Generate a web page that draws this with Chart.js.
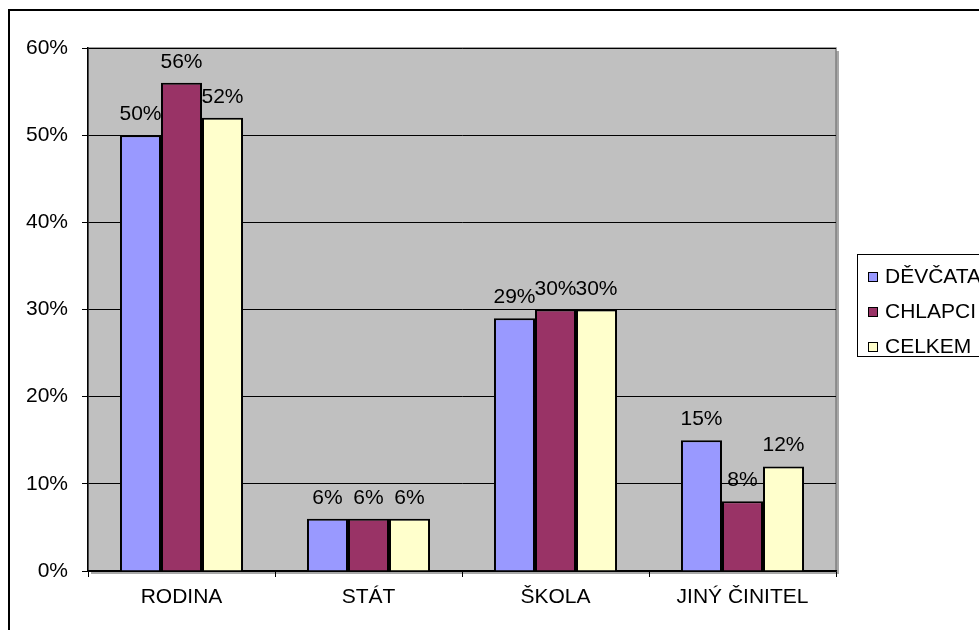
<!DOCTYPE html>
<html>
<head>
<meta charset="utf-8">
<script src="https://cdn.jsdelivr.net/npm/chart.js@4"></script>
<style>
  html, body { margin: 0; padding: 0; background: #fff; overflow: hidden; }
  #frame { position: absolute; left: 8px; top: 9px; width: 1100px; height: 800px; border: 2px solid #000; }
  #wrap { position: absolute; left: 0; top: 0; width: 979px; height: 630px; }
  #legend { position: absolute; left: 857px; top: 254px; width: 160px; height: 101px;
            border: 1px solid #000; background: #fff; font: 21px "Liberation Sans", Arial, sans-serif; }
  #legend div { position: absolute; left: 10px; height: 24px; line-height: 24px; white-space: nowrap; }
  #legend span { display: inline-block; width: 8px; height: 8px; border: 1px solid #000; margin-right: 7px; vertical-align: 1px; }
</style>
</head>
<body>
<div id="frame"></div>
<div id="wrap"><canvas id="chart" width="979" height="630"></canvas></div>
<div id="legend"></div>
<script>
const categories = ["RODINA", "STÁT", "ŠKOLA", "JINÝ ČINITEL"];
const seriesNames = ["DĚVČATA", "CHLAPCI", "CELKEM"];
const devcata = [50, 6, 29, 15];
const chlapci = [56, 6, 30, 8];
const celkem = [52, 6, 30, 12];
const colors = ["#9999FF", "#993366", "#FFFFCC"];

const font = '"Liberation Sans", Arial, sans-serif';

// sedé pozadí grafu se stínem
const plotBg = {
    id: "plotBg",
    beforeDraw(chart) {
        const a = chart.chartArea, c = chart.ctx;
        c.save();
        c.fillStyle = "#A8A8A8";
        c.fillRect(a.left + 3, a.top + 3, a.width, a.height);
        c.fillStyle = "#C0C0C0";
        c.fillRect(a.left, a.top, a.width, a.height);
        c.strokeStyle = "#808080";
        c.lineWidth = 1.5;
        c.strokeRect(a.left, a.top, a.width, a.height);
        c.restore();
    }
};

// popisky hodnot nad sloupci (pod sloupci v pořadí kreslení)
const valueLabels = {
    id: "valueLabels",
    beforeDatasetsDraw(chart) {
        const c = chart.ctx;
        c.save();
        c.font = "21px " + font;
        c.fillStyle = "#000";
        c.textAlign = "center";
        c.textBaseline = "alphabetic";
        chart.data.datasets.forEach((ds, i) => {
            chart.getDatasetMeta(i).data.forEach((bar, j) => {
                c.fillText(ds.data[j] + "%", bar.x, bar.y - 15);
            });
        });
        c.restore();
    }
};

const datasets = [devcata, chlapci, celkem].map((d, i) => ({
    label: seriesNames[i],
    data: d,
    backgroundColor: colors[i],
    borderColor: "#000",
    borderWidth: 2,
    categoryPercentage: 0.658,
    barPercentage: 1
}));

new Chart(document.getElementById("chart"), {
    type: "bar",
    data: { labels: categories, datasets: datasets },
    options: {
        responsive: false,
        animation: false,
        layout: { padding: { left: 0, top: 48, right: 143, bottom: 0 } },
        plugins: { legend: { display: false }, tooltip: { enabled: false } },
        scales: {
            x: {
                afterFit(s) { s.height = 59; },
                grid: { drawOnChartArea: false, drawTicks: true, tickLength: 6, color: "#000", offset: true },
                border: { color: "#000", width: 1.5 },
                ticks: { color: "#000", font: { family: font, size: 21 }, padding: 8 }
            },
            y: {
                min: 0, max: 60,
                afterFit(s) { s.width = 88; },
                grid: { color: "#000", lineWidth: 1, tickLength: 6 },
                border: { color: "#000", width: 1.5 },
                ticks: { stepSize: 10, color: "#000", font: { family: font, size: 21 }, padding: 14,
                         callback: v => v + "%" }
            }
        }
    },
    plugins: [plotBg, valueLabels]
});

// legenda
const legend = document.getElementById("legend");
seriesNames.forEach((name, i) => {
    const row = document.createElement("div");
    row.style.top = (9 + i * 35) + "px";
    row.innerHTML = '<span style="background:' + colors[i] + '"></span>' + name;
    legend.appendChild(row);
});
</script>
</body>
</html>
